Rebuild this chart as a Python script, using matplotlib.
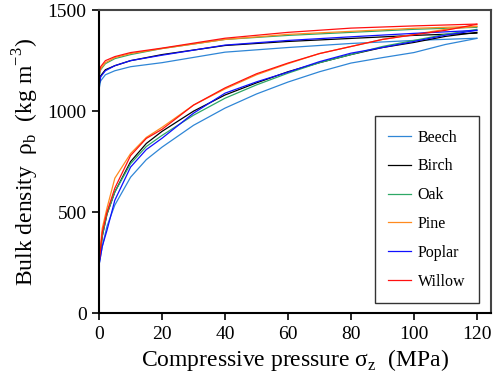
import numpy as np
import matplotlib
matplotlib.use("Agg")
import matplotlib.pyplot as plt

plt.rcParams['font.family'] = ['Liberation Serif', 'DejaVu Serif']
plt.rcParams['mathtext.fontset'] = 'custom'
plt.rcParams['mathtext.rm'] = 'Liberation Serif'

# Species and line colours
species = ['Beech', 'Birch', 'Oak', 'Pine', 'Poplar', 'Willow']
colors = ['#2f86d6', '#000000', '#2ea866', '#ff8a1e', '#1010ff', '#ff1010']

# Loading branch: pressure (MPa) and bulk density (kg m-3)
p_load = [0, 1, 2.5, 5, 10, 15, 20, 30, 40, 50, 60, 70, 80, 90, 100, 110, 120]
beech_load = [240, 330, 430, 535, 673, 760, 822, 930, 1015, 1085, 1144, 1195, 1238, 1265, 1290, 1330, 1360]
birch_load = [250, 380, 490, 600, 750, 840, 900, 1000, 1080, 1140, 1195, 1240, 1280, 1315, 1340, 1370, 1390]
oak_load = [250, 380, 490, 600, 740, 825, 880, 980, 1064, 1130, 1188, 1240, 1280, 1320, 1350, 1380, 1405]
pine_load = [260, 420, 520, 668, 790, 870, 920, 1030, 1110, 1180, 1235, 1285, 1320, 1355, 1380, 1405, 1420]
poplar_load = [240, 330, 410, 559, 723, 810, 866, 990, 1089, 1145, 1193, 1245, 1287, 1315, 1345, 1376, 1400]
willow_load = [250, 400, 500, 619, 780, 865, 910, 1030, 1115, 1185, 1238, 1285, 1320, 1355, 1378, 1400, 1430]

# Unloading branch
p_unload = [0, 0.5, 2, 5, 10, 20, 40, 60, 80, 100, 120]
beech_unload = [1110, 1150, 1180, 1200, 1220, 1240, 1292, 1315, 1335, 1350, 1361]
birch_unload = [1130, 1175, 1205, 1225, 1250, 1280, 1325, 1345, 1360, 1375, 1386]
oak_unload = [1170, 1205, 1235, 1260, 1280, 1310, 1355, 1375, 1390, 1405, 1415]
pine_unload = [1180, 1210, 1240, 1265, 1285, 1310, 1355, 1380, 1395, 1410, 1420]
poplar_unload = [1130, 1170, 1200, 1225, 1250, 1277, 1327, 1350, 1368, 1385, 1400]
willow_unload = [1190, 1220, 1250, 1270, 1290, 1312, 1361, 1390, 1411, 1422, 1431]

loads = [beech_load, birch_load, oak_load, pine_load, poplar_load, willow_load]
unloads = [beech_unload, birch_unload, oak_unload, pine_unload, poplar_unload, willow_unload]

fig = plt.figure(figsize=(4.93, 3.90), dpi=100)
ax = fig.add_axes([0.201, 0.197, 0.795, 0.777])

for name, c, ld, ul in zip(species, colors, loads, unloads):
    ax.plot(p_load, ld, color=c, lw=0.9, label=name)
    ax.plot(p_unload, ul, color=c, lw=0.9)

ax.set_xlim(0, 124.5)
ax.set_ylim(0, 1500)
ax.set_xticks(np.arange(0, 121, 20))
ax.set_yticks([0, 500, 1000, 1500])
ax.tick_params(direction='out', length=5, width=1.2, labelsize=14, pad=4)
for s in ax.spines.values():
    s.set_linewidth(1.5)
ax.spines['top'].set_color('#444444')
ax.spines['right'].set_color('#444444')

ax.set_xlabel('Compressive pressure σ$_\\mathregular{z}$  (MPa)', fontsize=17, labelpad=3)
ax.set_ylabel('Bulk density  ρ$_\\mathregular{b}$  (kg m$^\\mathregular{-3}$)', fontsize=17, labelpad=5)

leg = ax.legend(loc='lower right', bbox_to_anchor=(0.969, 0.033), borderaxespad=0,
                fontsize=11.5, fancybox=False, edgecolor='#333333', framealpha=1,
                handlelength=1.45, handletextpad=0.4, labelspacing=0.8, borderpad=0.85)
leg.get_frame().set_linewidth(1.0)

fig.savefig('out.png', dpi=100)
